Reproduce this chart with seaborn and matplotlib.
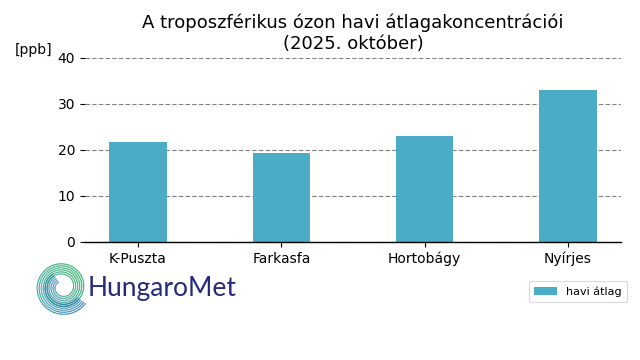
import numpy as np
import pandas as pd
import matplotlib
matplotlib.use("Agg")
import matplotlib.pyplot as plt
import seaborn as sns
from matplotlib.collections import LineCollection
from matplotlib.colors import LinearSegmentedColormap

# ---- data ----
stations = ["K-Puszta", "Farkasfa", "Hortobágy", "Nyírjes"]
monthly_avg = [21.8, 19.4, 23.1, 33.1]
y_ticks = [0, 10, 20, 30, 40]
title = "A troposzférikus ózon havi átlagakoncentrációi\n(2025. október)"
unit_label = "[ppb]"
legend_label = "havi átlag"

df = pd.DataFrame({"station": stations, "value": monthly_avg, "series": legend_label})

sns.set_style("white")
plt.rcParams["font.family"] = ["DejaVu Sans"]
plt.rcParams["text.color"] = "black"
plt.rcParams["axes.labelcolor"] = "black"
plt.rcParams["xtick.color"] = "black"
plt.rcParams["ytick.color"] = "black"

fig = plt.figure(figsize=(6.4, 3.6), dpi=100)
ax = fig.add_axes([0.1328, 0.328, 0.8375, 0.511])

sns.barplot(data=df, x="station", y="value", hue="series", palette=["#4BACC6"],
            width=0.4, ax=ax, saturation=1, linewidth=0)
ax.set_ylim(0, 40)
ax.set_yticks(y_ticks)
ax.set_xlim(-0.37, 3.37)
ax.set_xlabel("")
ax.set_ylabel("")
for s in ["top", "right", "left"]:
    ax.spines[s].set_visible(False)
ax.spines["bottom"].set_color("black")
ax.spines["bottom"].set_linewidth(1.0)
ax.yaxis.grid(True, linestyle=(0, (4, 2)), color="#808080", linewidth=0.8)
ax.set_axisbelow(True)
ax.tick_params(axis="both", which="both", labelsize=10, length=3.5, width=0.8,
               colors="black", labelcolor="black", left=True, bottom=True)
ax.set_title(title, fontsize=13, pad=6.5, color="black")
fig.text(0.023, 0.86, unit_label, fontsize=10, ha="left", va="center", color="black")

leg = ax.legend(loc="upper right", bbox_to_anchor=(0.988, 0.236),
                bbox_transform=fig.transFigure, fontsize=8, frameon=True,
                handlelength=2.0, borderpad=0.5)
leg.get_frame().set_edgecolor("#d0d0d0")
leg.get_frame().set_linewidth(0.8)
for t in leg.get_texts():
    t.set_color("black")

# ---- logo (decoration) ----
lax = fig.add_axes([0.05, 0.12, 0.095, 0.165])
lax.set_xlim(-1.1, 1.1)
lax.set_ylim(-1.1, 1.1)
lax.set_aspect("equal")
lax.axis("off")
cmap = LinearSegmentedColormap.from_list("logo", ["#1f6fb5", "#1a9c8c", "#10a050", "#138a8a", "#1f6fb5"])
th = np.linspace(np.deg2rad(215), np.deg2rad(215 + 560), 300)
for k in range(6):
    off = k * 0.075
    r = 1.05 - off - (th - th[0]) / (th[-1] - th[0]) * 0.45
    xs = r * np.cos(-th + np.pi)
    ys = r * np.sin(-th + np.pi)
    pts = np.array([xs, ys]).T.reshape(-1, 1, 2)
    segs = np.concatenate([pts[:-1], pts[1:]], axis=1)
    lc = LineCollection(segs, cmap=cmap, linewidths=0.8)
    lc.set_array(np.linspace(0, 1, len(segs)))
    lax.add_collection(lc)
fig.text(0.137, 0.198, "HungaroMet", fontsize=19, color="#252a7a",
         family="Lato", ha="left", va="center")

fig.savefig("out.png", dpi=100)
